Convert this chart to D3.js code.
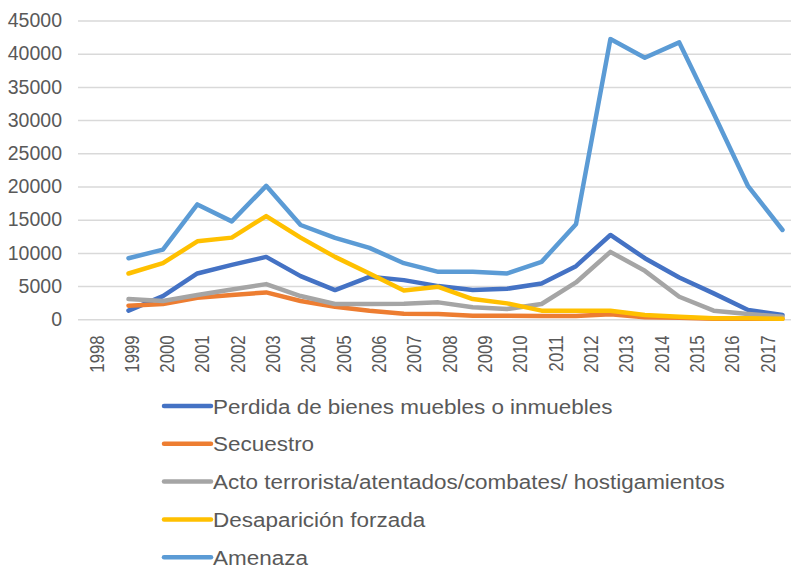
<!DOCTYPE html>
<html>
<head>
<meta charset="utf-8">
<script src="https://cdn.jsdelivr.net/npm/d3@7"></script>
<style>
  body { margin: 0; background: #fff; }
  #chart { width: 791px; height: 567px; }
  text { font-family: "Liberation Sans", Arial, sans-serif; fill: #595959; }
</style>
</head>
<body>
<div id="chart"></div>
<script>
// categories and tick labels
const years = ["1998", "1999", "2000", "2001", "2002", "2003", "2004", "2005", "2006", "2007",
               "2008", "2009", "2010", "2011", "2012", "2013", "2014", "2015", "2016", "2017"];
const yTicks = [0, 5000, 10000, 15000, 20000, 25000, 30000, 35000, 40000, 45000];

// series values
const perdida   = [1300, 3500, 6900, 8200, 9400, 6500, 4400, 6400, 5900, 5000,
                   4400, 4600, 5400, 8000, 12700, 9200, 6300, 3900, 1400, 650];
const secuestro = [2050, 2300, 3250, 3650, 4050, 2750, 1900, 1300, 850, 800,
                   550, 550, 500, 500, 750, 300, 250, 100, 100, 100];
const acto      = [3050, 2750, 3650, 4500, 5300, 3500, 2300, 2300, 2350, 2550,
                   1800, 1550, 2300, 5550, 10150, 7300, 3400, 1300, 800, 400];
const desap     = [6900, 8450, 11750, 12300, 15550, 12300, 9400, 6900, 4350, 4900,
                   3050, 2400, 1300, 1300, 1300, 650, 400, 150, 150, 100];
const amenaza   = [9200, 10500, 17300, 14750, 20100, 14200, 12250, 10750, 8450, 7150,
                   7150, 6900, 8650, 14300, 42200, 39400, 41700, 31000, 20050, 13450];

const seriesNames = ["Perdida de bienes muebles o inmuebles", "Secuestro",
                     "Acto terrorista/atentados/combates/ hostigamientos",
                     "Desaparición forzada", "Amenaza"];
const seriesColors = ["#4472C4", "#ED7D31", "#A5A5A5", "#FFC000", "#5B9BD5"];
const seriesValues = [perdida, secuestro, acto, desap, amenaza];

const width = 791, height = 567;
const margin = { top: 20.5, right: 0, bottom: 247.7, left: 78 };
const plotW = width - margin.left - margin.right;
const plotH = height - margin.top - margin.bottom;

const svg = d3.select("#chart").append("svg")
    .attr("width", width)
    .attr("height", height);

const y = d3.scaleLinear().domain([0, 45000]).range([plotH, 0]);
// the data vertices and the category labels do not share the same spacing in the picture
const xData = d3.scalePoint().domain(years).range([128.5 - margin.left, 782.5 - margin.left]);
const xLabel = d3.scalePoint().domain(years).range([96 - margin.left, 767 - margin.left]);

const plot = svg.append("g")
    .attr("transform", "translate(" + margin.left + "," + margin.top + ")");

// gridlines + y labels
const yAxis = plot.append("g")
    .call(d3.axisLeft(y).tickValues(yTicks).tickSize(-plotW).tickPadding(16).tickFormat(d3.format("d")));
yAxis.select(".domain").remove();
yAxis.selectAll("line").attr("stroke", "#d9d9d9").attr("stroke-width", 1.5);
yAxis.selectAll("text")
    .style("font-size", "19.5px")
    .attr("fill", "#595959");

// x labels
const xAxis = plot.append("g")
    .attr("transform", "translate(0," + plotH + ")")
    .call(d3.axisBottom(xLabel).tickSize(0));
xAxis.select(".domain").remove();
xAxis.selectAll("text")
    .style("font-size", "20px")
    .attr("fill", "#595959")
    .attr("text-anchor", "end")
    .attr("dy", null)
    .attr("y", 0)
    .attr("transform", "translate(7,16) rotate(-90) scale(0.84,1)");

// lines
const line = d3.line()
    .x((d, i) => xData(years[i]))
    .y(d => y(d));

seriesValues.forEach((vals, k) => {
    plot.append("path")
        .datum(vals)
        .attr("fill", "none")
        .attr("stroke", seriesColors[k])
        .attr("stroke-width", 4.5)
        .attr("stroke-linejoin", "round")
        .attr("stroke-linecap", "round")
        .attr("d", line);
});

// legend
const legend = svg.append("g").attr("transform", "translate(164,406)");
seriesNames.forEach((name, k) => {
    const row = legend.append("g").attr("transform", "translate(0," + (k * 37.8) + ")");
    row.append("line")
        .attr("x1", 0).attr("x2", 47)
        .attr("y1", 0).attr("y2", 0)
        .attr("stroke", seriesColors[k])
        .attr("stroke-width", 4.5)
        .attr("stroke-linecap", "round");
    row.append("text")
        .attr("transform", "translate(49,7.5) scale(1.07,1)")
        .style("font-size", "21px")
        .text(name);
});
</script>
</body>
</html>
